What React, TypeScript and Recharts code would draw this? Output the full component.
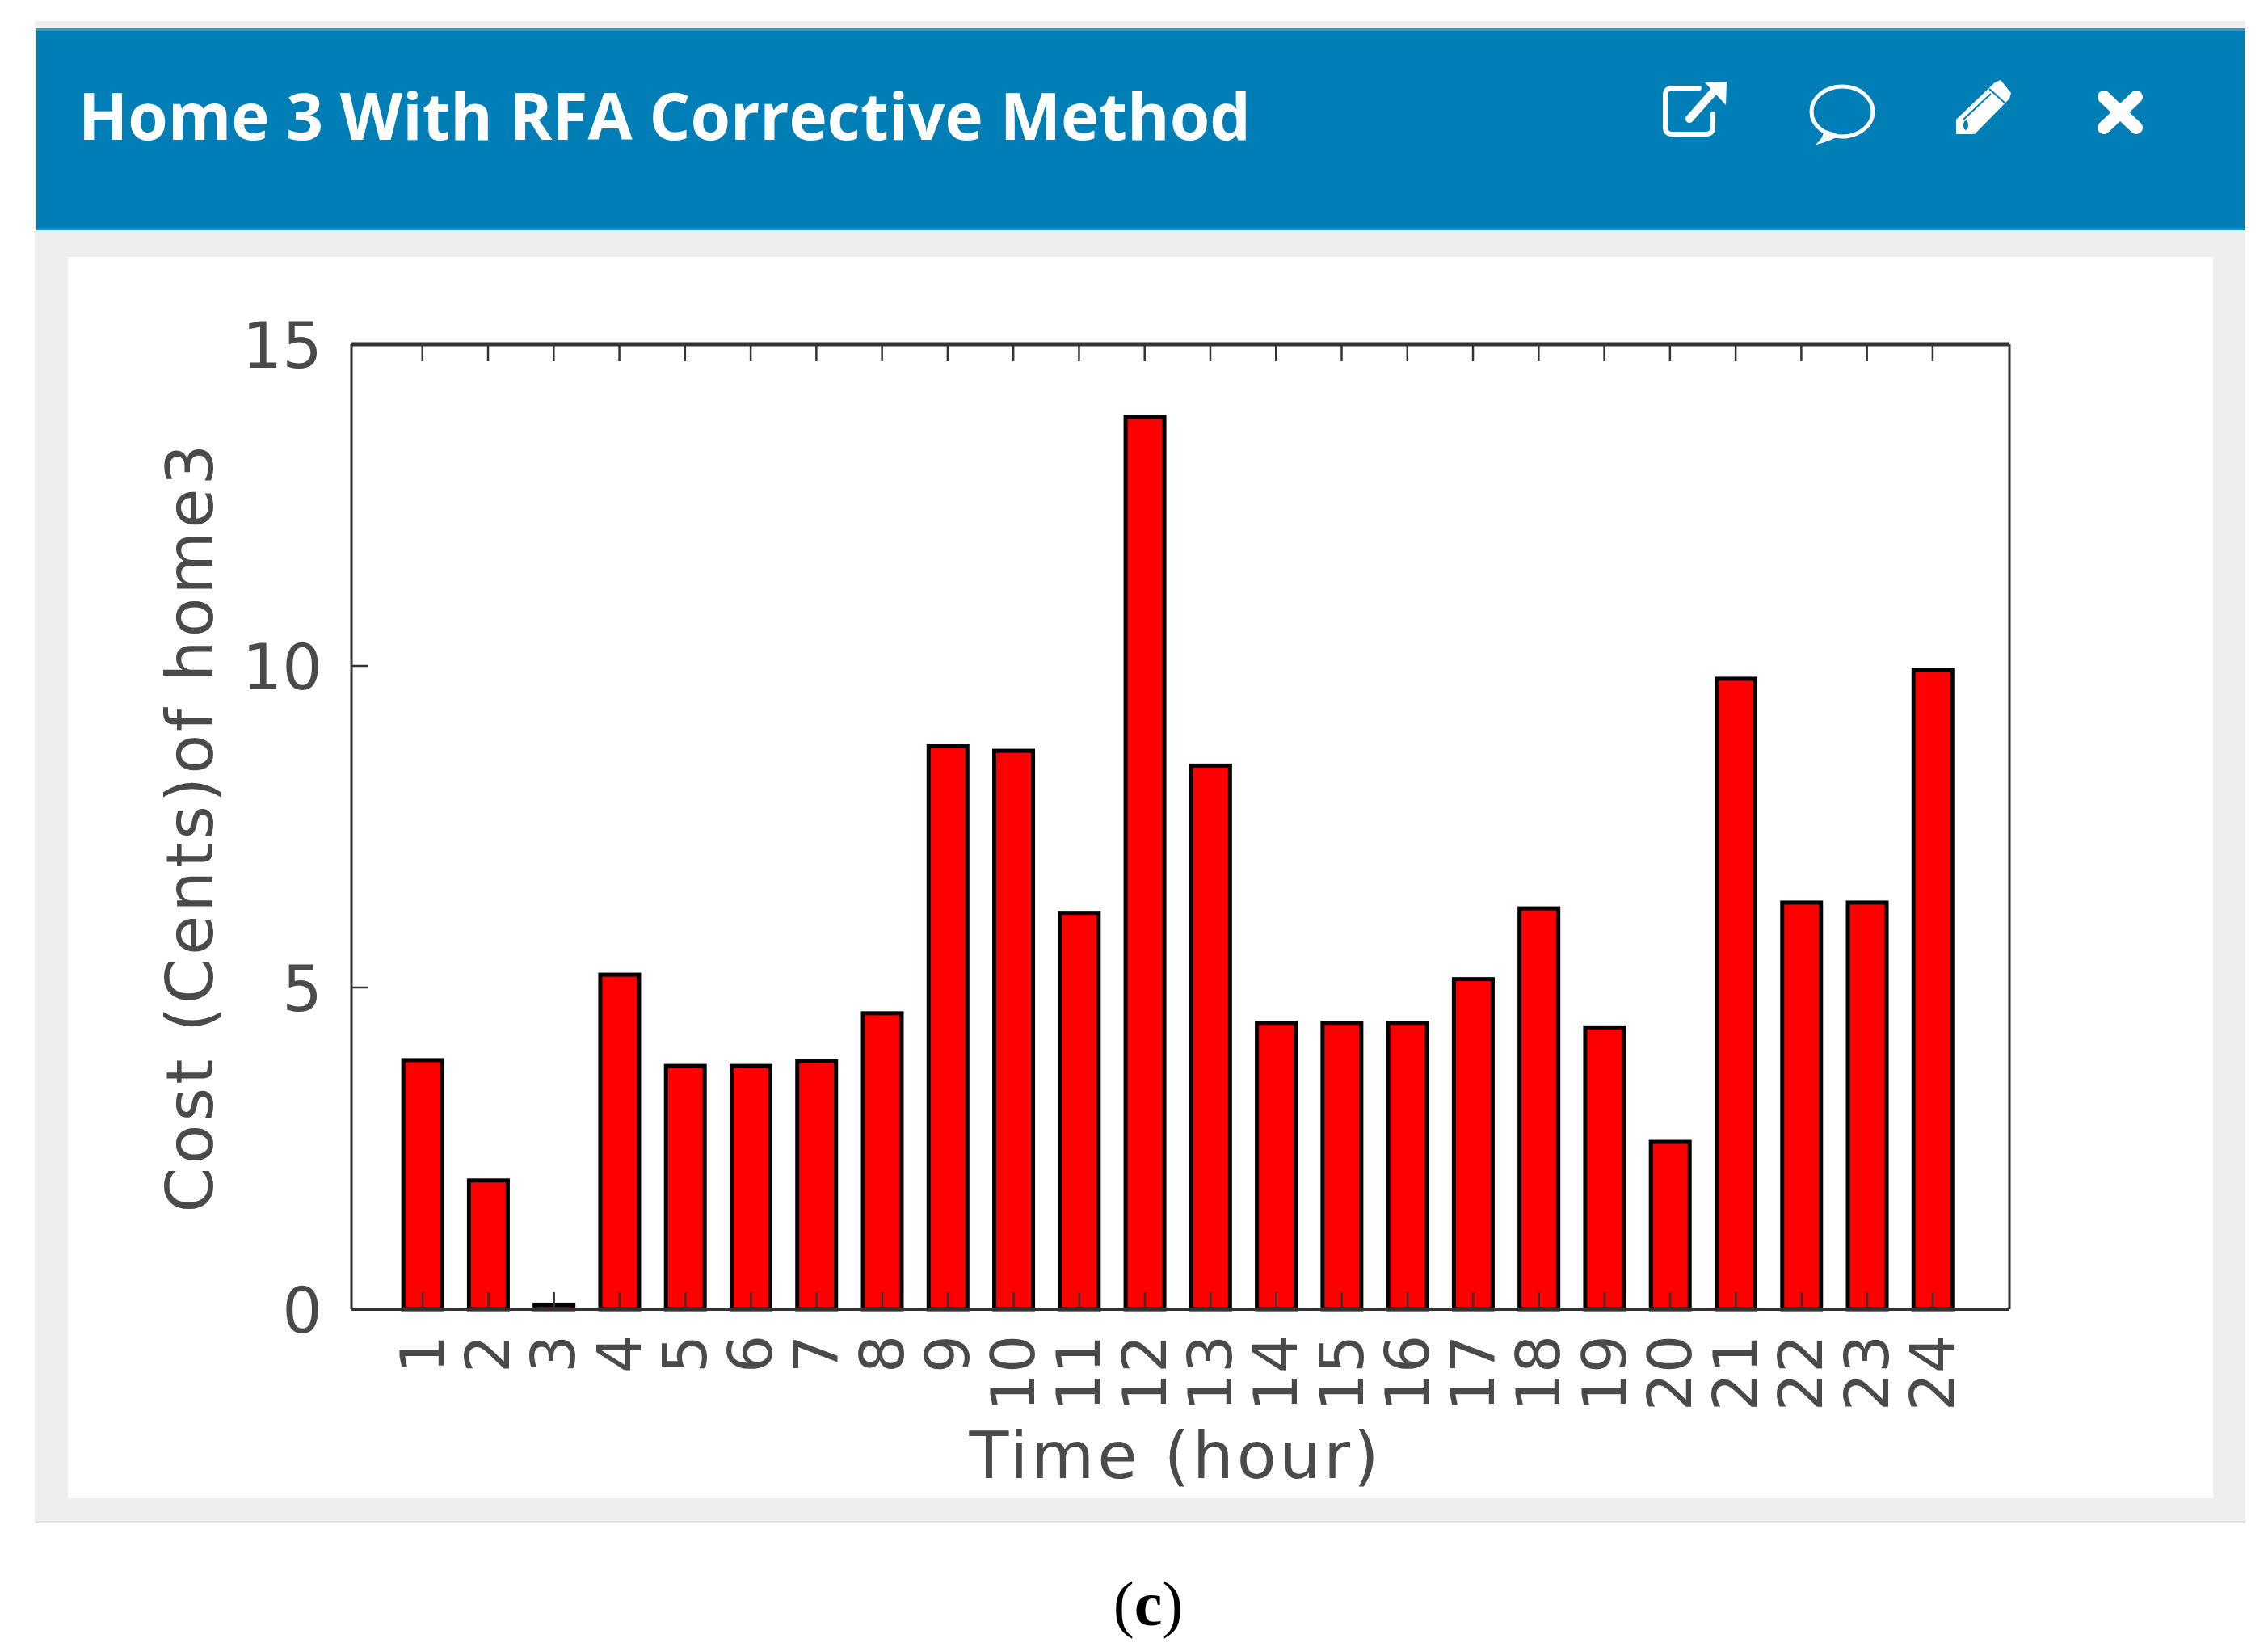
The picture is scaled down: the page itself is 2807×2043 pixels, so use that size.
import { BarChart, Bar, XAxis, YAxis } from 'recharts'

const HOURS = [1, 2, 3, 4, 5, 6, 7, 8, 9, 10, 11, 12, 13, 14, 15, 16, 17, 18, 19, 20, 21, 22, 23, 24]
const COST = [3.87, 2.0, 0.07, 5.2, 3.78, 3.78, 3.85, 4.6, 8.75, 8.68, 6.16, 13.87, 8.45, 4.45, 4.45, 4.45, 5.13, 6.23, 4.38, 2.6, 9.8, 6.32, 6.32, 9.94]
const Y_TICKS = [0, 5, 10, 15]
const X_DOMAIN = [-0.08, 25.17]

const data = HOURS.map((hour, i) => ({ hour, cost: COST[i] }))

const FONT = '"DejaVu Sans", sans-serif'
const TEXT = '#4a4a4a'
const AXIS = '#333333'
const TICK_LEN = 21

function BottomTick({ x, y, payload }: any) {
  return (
    <text
      transform={`translate(${x},${y + 32}) rotate(-90)`}
      textAnchor="end"
      dominantBaseline="central"
      fontSize={74}
      fontFamily={FONT}
      fill={TEXT}
    >
      {payload.value}
    </text>
  )
}

function TopTick({ x, y }: any) {
  return <line x1={x} x2={x} y1={y} y2={y + TICK_LEN} stroke={AXIS} strokeWidth={2.5} />
}

function LeftTick({ x, y, payload }: any) {
  return (
    <g>
      <line x1={x} x2={x + TICK_LEN} y1={y} y2={y} stroke={AXIS} strokeWidth={2.5} />
      <text x={x - 36} y={y + 2} textAnchor="end" dominantBaseline="central" fontSize={78} fontFamily={FONT} fill={TEXT}>
        {payload.value}
      </text>
    </g>
  )
}

function RightTick({ x, y }: any) {
  return <line x1={x} x2={x - TICK_LEN} y1={y} y2={y} stroke={AXIS} strokeWidth={2.5} />
}

// bars cover the axis, so the bottom ticks are drawn with the bar
function CostBar({ x, y, width, height }: any) {
  const cx = x + width / 2
  const base = y + height
  return (
    <g>
      <rect x={x} y={y} width={width} height={height} fill="#ff0000" stroke="#000000" strokeWidth={5} />
      <line x1={cx} x2={cx} y1={base} y2={base - TICK_LEN} stroke={AXIS} strokeWidth={2.5} />
    </g>
  )
}

function XTitle({ viewBox }: any) {
  return (
    <text
      x={viewBox.x + viewBox.width / 2 - 6}
      y={1829}
      textAnchor="middle"
      fontSize={80}
      letterSpacing={4}
      fontFamily={FONT}
      fill={TEXT}
    >
      Time (hour)
    </text>
  )
}

function YTitle({ viewBox }: any) {
  return (
    <text
      transform={`translate(263,${viewBox.y + viewBox.height / 2}) rotate(-90)`}
      textAnchor="middle"
      fontSize={80}
      letterSpacing={4}
      fontFamily={FONT}
      fill={TEXT}
    >
      Cost (Cents)of home3
    </text>
  )
}

function HeaderIcons() {
  return (
    <svg width={2807} height={300} style={{ position: 'absolute', left: 0, top: 0 }}>
      <g fill="none" stroke="#ffffff" strokeLinecap="round" strokeLinejoin="round">
        <path d="M2103 109 H2070 Q2061 109 2061 118 V157 Q2061 166 2070 166 H2111 Q2120 166 2120 157 V141" strokeWidth={6} />
        <path d="M2091 147 L2122 112" strokeWidth={10} />
        <ellipse cx={2280} cy={138} rx={38} ry={31} strokeWidth={5} />
      </g>
      <path d="M2110 102 L2137 101 L2136 130 Z" fill="#ffffff" />
      <path d="M2257 160 Q2258 170 2247 179 Q2266 175 2277 167 Z" fill="#ffffff" />
      <path d="M2421 166 L2421 148 L2469 102 L2476 99 L2489 115 L2487 122 L2444 166 Z" fill="#ffffff" />
      <path d="M2462 110 L2482 128 M2430 148 L2464 116" stroke="#017eb5" strokeWidth={2} fill="none" />
      <ellipse cx={2433} cy={155} rx={3} ry={6} fill="#017eb5" />
      <path d="M2604 120 L2644 158 M2644 120 L2604 158" stroke="#ffffff" strokeWidth={16} strokeLinecap="round" />
    </svg>
  )
}

export default function App() {
  return (
    <div style={{ position: 'absolute', left: 0, top: 0, width: 2807, height: 2043, background: '#ffffff', overflow: 'hidden' }}>
      <div style={{ position: 'absolute', left: 43, top: 26, width: 2736, height: 1859, background: '#eeeeee', borderBottom: '3px solid #e2e2e2', boxSizing: 'border-box' }} />
      <div style={{ position: 'absolute', left: 45, top: 35, width: 2733, height: 250, background: '#017eb5', borderTop: '3px solid #2a9cc9', borderBottom: '3px solid #1a94c6', boxSizing: 'border-box' }} />
      <div style={{ position: 'absolute', left: 84, top: 318, width: 2655, height: 1536, background: '#ffffff' }} />
      <div
        style={{
          position: 'absolute',
          left: 97,
          top: 84,
          fontFamily: '"Open Sans", sans-serif',
          fontWeight: 700,
          fontSize: 80,
          lineHeight: '116px',
          color: '#ffffff',
          whiteSpace: 'nowrap',
        }}
      >
        Home 3 With RFA Corrective Method
      </div>
      <HeaderIcons />
      <div style={{ position: 'absolute', left: 0, top: 0 }}>
        <BarChart width={2807} height={2043} data={data} margin={{ top: 425, right: 319, bottom: 422, left: 434 }}>
          <XAxis
            dataKey="hour"
            type="number"
            scale="linear"
            domain={X_DOMAIN}
            ticks={HOURS}
            interval={0}
            height={1}
            tickSize={0}
            tickMargin={0}
            tickLine={false}
            allowDataOverflow
            axisLine={{ stroke: AXIS, strokeWidth: 4 }}
            tick={<BottomTick />}
            label={<XTitle />}
          />
          <XAxis
            xAxisId="top"
            dataKey="hour"
            orientation="top"
            type="number"
            scale="linear"
            domain={X_DOMAIN}
            ticks={HOURS}
            interval={0}
            height={1}
            tickSize={0}
            tickMargin={0}
            tickLine={false}
            allowDataOverflow
            axisLine={{ stroke: AXIS, strokeWidth: 5 }}
            tick={<TopTick />}
          />
          <YAxis
            domain={[0, 15]}
            ticks={Y_TICKS}
            interval={0}
            width={1}
            tickSize={0}
            tickMargin={0}
            tickLine={false}
            axisLine={{ stroke: AXIS, strokeWidth: 3 }}
            tick={<LeftTick />}
            label={<YTitle />}
          />
          <YAxis
            yAxisId="right"
            orientation="right"
            domain={[0, 15]}
            ticks={Y_TICKS}
            interval={0}
            width={1}
            tickSize={0}
            tickMargin={0}
            tickLine={false}
            axisLine={{ stroke: AXIS, strokeWidth: 3 }}
            tick={<RightTick />}
          />
          <Bar dataKey="cost" barSize={48} shape={<CostBar />} isAnimationActive={false} />
        </BarChart>
      </div>
      <div
        style={{
          position: 'absolute',
          left: 1221,
          width: 400,
          top: 1940,
          textAlign: 'center',
          fontFamily: '"Liberation Serif", serif',
          fontSize: 78,
          lineHeight: '90px',
          color: '#000000',
        }}
      >
        (<b>c</b>)
      </div>
    </div>
  )
}
